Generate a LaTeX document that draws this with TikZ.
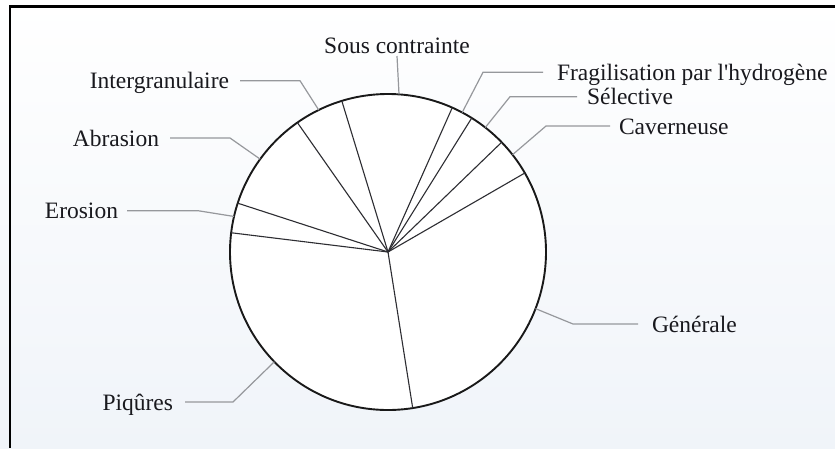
\documentclass[tikz,border=0pt]{standalone}
\usepackage{fontspec}
\newfontfamily\labfont{Liberation Serif}
\usetikzlibrary{calc}
\definecolor{txt}{RGB}{25,25,30}
\definecolor{lead}{RGB}{150,152,156}
\definecolor{spk}{RGB}{45,45,50}
\definecolor{bgbot}{RGB}{240,244,249}
\tikzset{
  lab/.style={font={\labfont\fontsize{23.5}{28}\selectfont}, text=txt, inner sep=0pt,
    outer xsep=11pt, outer ysep=0pt, text height=16pt, text depth=0pt},
  leader/.style={draw=lead, line width=1.2pt},
  spoke/.style={draw=spk, line width=1.1pt},
  rim/.style={draw=black!90, fill=white, line width=1.9pt, circle, minimum size=316pt, inner sep=0pt, outer sep=0pt},
  frameline/.style={draw=black, line width=2.4pt}
}
\begin{document}
\begin{tikzpicture}[x=1pt,y=-1pt]
  \useasboundingbox (0,0) rectangle (835,448);
  \shade[top color=white, bottom color=bgbot] (0,0) rectangle (835,448);
  % frame (cut by the picture edge)
  \coordinate (ftr) at (835,6.5);
  \coordinate (ftl) at (10,6.5);
  \coordinate (fbl) at (10,448);
  \draw[frameline] (ftr) -- (ftl) -- (fbl);
  % pie
  \node[rim] (pie) at (388,252) {};
  \foreach \a in {30.5,44.7,58,66.9,107.5,125.7,162.9,173.8,279.2}
    \draw[spoke] (pie.center) -- (pie.\a);
  % labels
  \node[lab, anchor=base, outer ysep=3pt] (sc) at (397,53) {Sous contrainte};
  \node[lab, anchor=east] (ig) at (240,80.7) {Intergranulaire};
  \node[lab, anchor=east] (ab) at (170,138) {Abrasion};
  \node[lab, anchor=east, outer xsep=9pt] (er) at (127,210.7) {Erosion};
  \node[lab, anchor=east, outer xsep=12pt] (pi) at (185,402) {Piqûres};
  \node[lab, anchor=west, outer xsep=14pt] (fr) at (543,72.3) {Fragilisation par l'hydrogène};
  \node[lab, anchor=west, outer xsep=10pt] (se) at (577,96.7) {Sélective};
  \node[lab, anchor=west, outer xsep=9pt] (ca) at (610,126) {Caverneuse};
  \node[lab, anchor=west, outer xsep=14pt] (ge) at (638,324) {Générale};
  % knees
  \coordinate (igk) at (300,80.7);
  \coordinate (abk) at (230,138);
  \coordinate (erk) at (198,210.7);
  \coordinate (pik) at (233,402);
  \coordinate (frk) at (483,72.3);
  \coordinate (sek) at (510,96.7);
  \coordinate (cak) at (546,126);
  \coordinate (gek) at (573,324);
  % leaders
  \draw[leader] (sc.south) -- (pie.86.8);
  \draw[leader] (ig) -- (igk) -- (pie.116.8);
  \draw[leader] (ab) -- (abk) -- (pie.144);
  \draw[leader] (er) -- (erk) -- (pie.167.4);
  \draw[leader] (pi) -- (pik) -- (pie.224.7);
  \draw[leader] (fr) -- (frk) -- (pie.62.5);
  \draw[leader] (se) -- (sek) -- (pie.52.1);
  \draw[leader] (ca) -- (cak) -- (pie.38.3);
  \draw[leader] (ge) -- (gek) -- (pie.-21.7);
\end{tikzpicture}
\end{document}
